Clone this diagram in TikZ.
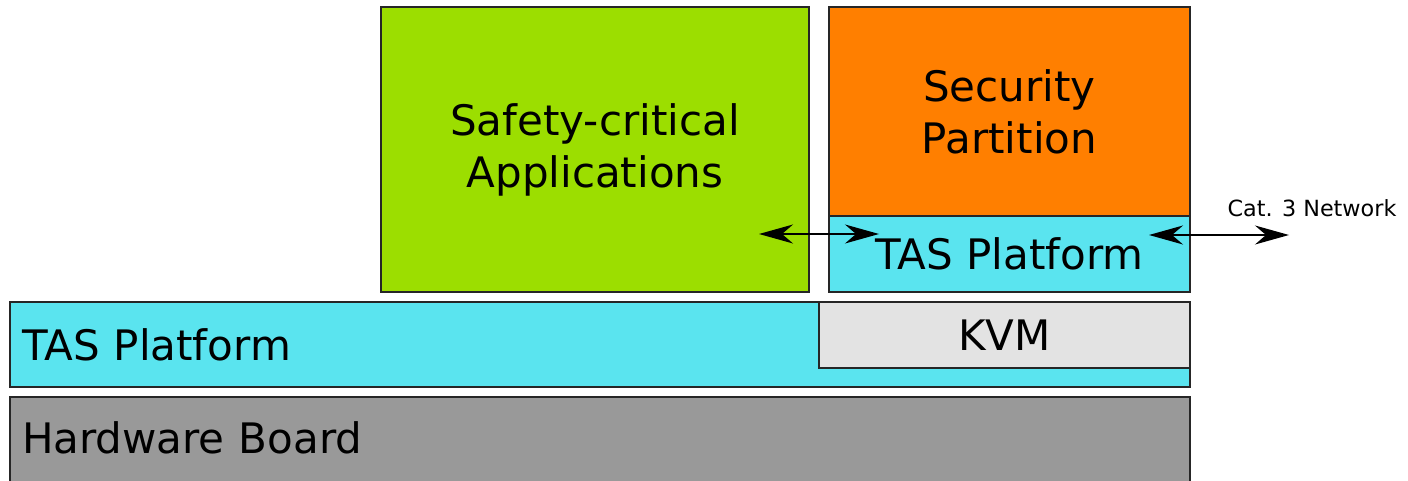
\documentclass[tikz,border=0pt]{standalone}
\usepackage{fontspec}
\setmainfont{DejaVu Sans}
\usetikzlibrary{arrows.meta}
\definecolor{safegreen}{HTML}{9CDE00}
\definecolor{secorange}{HTML}{FF7F00}
\definecolor{tascyan}{HTML}{5AE4EF}
\definecolor{kvmgray}{HTML}{E3E3E3}
\definecolor{hwgray}{HTML}{999999}
\tikzset{
  box/.style={draw=black!85, line width=1.5pt, rectangle, inner sep=0pt, outer sep=0pt, anchor=north west,
    font=\fontsize{42}{52}\selectfont, align=center},
  leftbox/.style={box, align=left, inner xsep=12pt},
  biarrow/.style={line width=1.5pt, {Stealth[length=34pt,width=19pt,inset=11pt]}-{Stealth[length=34pt,width=19pt,inset=11pt]}},
}
\begin{document}
\begin{tikzpicture}[x=1pt,y=-1pt]
\useasboundingbox (0,0) rectangle (1408,481);
\begin{scope}
\clip (0,0) rectangle (1408,481);
\node[box, fill=safegreen, minimum width=428pt, minimum height=285pt] (safe) at (381,7) {Safety-critical\\Applications};
\node[box, fill=secorange, minimum width=361pt, minimum height=209pt] (sec) at (829,7) {Security\\Partition};
\node[box, fill=tascyan, minimum width=361pt, minimum height=76pt] (tassmall) at (829,216) {TAS Platform};
\node[leftbox, fill=tascyan, minimum width=1180pt, minimum height=85pt, text width=1156pt] (tasbig) at (10,302) {TAS Platform};
\node[box, fill=kvmgray, minimum width=371pt, minimum height=66pt] (kvm) at (819,302) {KVM};
\node[leftbox, fill=hwgray, minimum width=1180pt, minimum height=90pt, text width=1156pt] (hw) at (10,397) {Hardware Board\vphantom{g}\\[-4pt]};
\end{scope}
\coordinate (a1s) at (759,234);
\coordinate (a1e) at (879,234);
\coordinate (a2s) at (1149,235);
\coordinate (a2e) at (1289,235);
\draw[biarrow] (a1s) -- (a1e);
\draw[biarrow] (a2s) -- (a2e);
\node[font=\fontsize{22.3}{24}\selectfont, inner sep=0pt] (net) at (1312,208) {Cat. 3 Network};
\end{tikzpicture}
\end{document}
